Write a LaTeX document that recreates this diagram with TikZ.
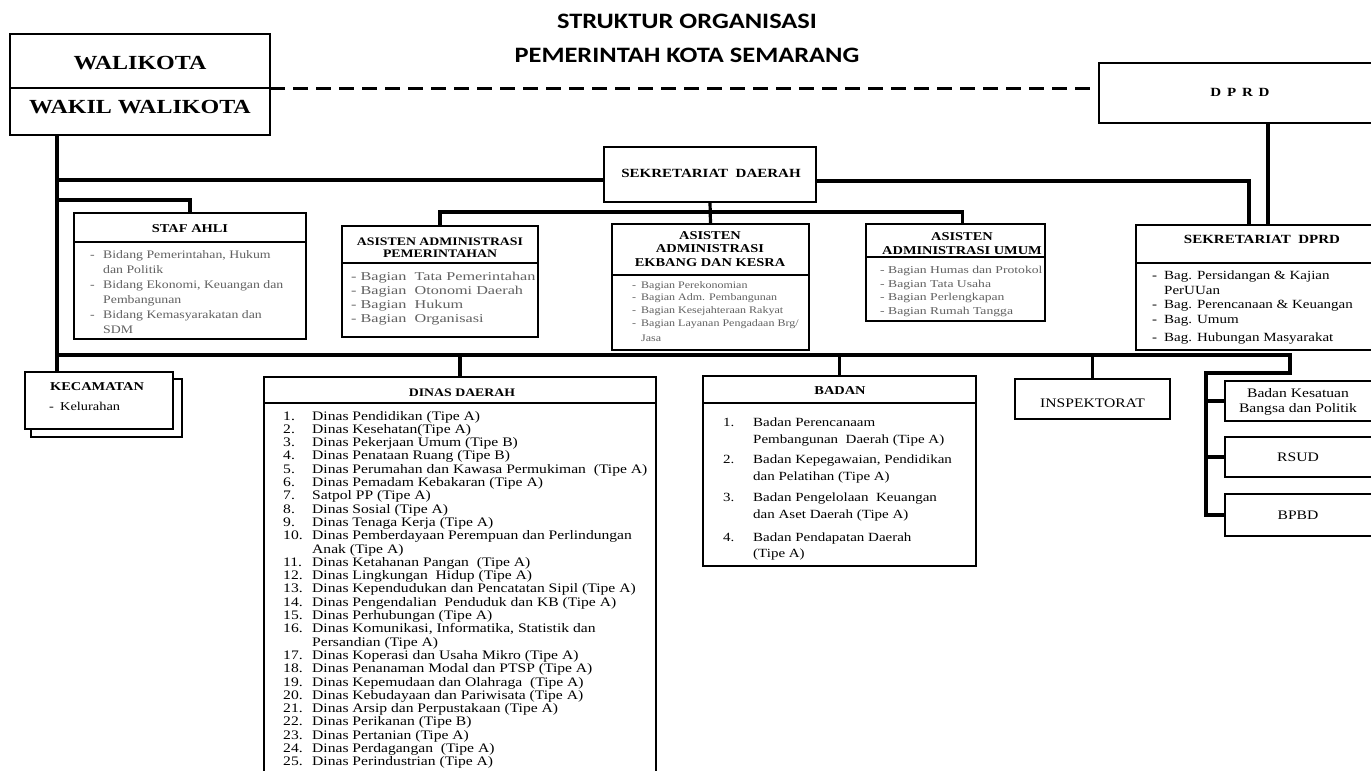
\documentclass[tikz,border=0pt]{standalone}
\usepackage{fontspec}
\setmainfont{Liberation Serif}[FakeStretch=1.2]
\newfontfamily\serW{Liberation Serif}[FakeStretch=1.35]
\newfontfamily\serWW{Liberation Serif}[FakeStretch=1.3]
\newfontfamily\titlef{Carlito}[FakeStretch=1.2]
\newcommand\fsz[2]{\fontsize{#1}{#2}\selectfont}
\newcommand\dsh[1]{\makebox[#1][l]{-}}
\newcommand\ind[1]{\hspace*{#1}}
\newcommand\num[2]{\makebox[#1][l]{#2}}
\definecolor{itemgray}{gray}{0.38}
\begin{document}
\begin{tikzpicture}[x=1pt,y=-1pt,
  box/.style={draw, line width=1.6pt, inner sep=0pt, outer sep=0pt, anchor=north west, fill=white},
  divline/.style={line width=1.6pt},
  conn/.style={line width=3.2pt, line join=miter},
  dashconn/.style={line width=3.2pt, dash pattern=on 15pt off 8pt},
  txt/.style={inner sep=0pt, anchor=base west},
  ctxt/.style={inner sep=0pt, anchor=base, align=center},
  gtxt/.style={txt, text=itemgray}
]
\useasboundingbox (0,0) rectangle (1371,771);
\clip (0,0) rectangle (1371,771);
\fill[white] (0,0) rectangle (1371,771);
\newcommand\hdiv[2]{\draw[divline] ([yshift=-#2pt]#1.north west) -- ([yshift=-#2pt]#1.north east);}

% ---------- title
\node[ctxt, font=\titlef\bfseries\fsz{22}{27}] (title1) at (687,28.5) {STRUKTUR ORGANISASI};
\node[ctxt, font=\titlef\bfseries\fsz{22}{27}] (title2) at (687,62.5) {PEMERINTAH KOTA SEMARANG};

% ---------- boxes
\node[box, minimum width=260pt, minimum height=101pt] (wali) at (10,34) {};
\draw[line width=2.6pt] ([yshift=-54pt]wali.north west) -- ([yshift=-54pt]wali.north east);
\node[box, minimum width=282pt, minimum height=60pt] (dprd) at (1099,63) {};
\node[box, minimum width=212pt, minimum height=55pt] (sekda) at (604,147) {};
\node[box, minimum width=232pt, minimum height=126pt] (staf) at (74,213) {};
\hdiv{staf}{29}
\node[box, minimum width=196pt, minimum height=111pt] (admpem) at (342,226) {};
\hdiv{admpem}{37}
\node[box, minimum width=197pt, minimum height=126pt] (ekbang) at (612,224) {};
\hdiv{ekbang}{51}
\node[box, minimum width=179pt, minimum height=97pt] (umum) at (866,224) {};
\hdiv{umum}{33}
\node[box, minimum width=252pt, minimum height=125pt] (sekdprd) at (1136,225) {};
\hdiv{sekdprd}{38}
\node[box, minimum width=151pt, minimum height=58pt] (kecs) at (31,379) {};
\node[box, minimum width=148pt, minimum height=57pt] (kec) at (25,372) {};
\node[box, minimum width=392pt, minimum height=420pt] (dinas) at (264,377) {};
\hdiv{dinas}{26}
\node[box, minimum width=273pt, minimum height=190pt] (badan) at (703,376) {};
\hdiv{badan}{27}
\node[box, minimum width=155pt, minimum height=40pt] (insp) at (1015,379) {};
\node[box, minimum width=147pt, minimum height=40pt] (bks) at (1225,381) {};
\node[box, minimum width=147pt, minimum height=40pt] (rsud) at (1225,437) {};
\node[box, minimum width=147pt, minimum height=42pt] (bpbd) at (1225,494) {};

% ---------- connectors
\coordinate (jSek) at (57,180);
\coordinate (jStaf) at (57,200);
\coordinate (jBot) at (57,355);
\coordinate (jR) at (1290,355);
\coordinate (jR2) at (1206,373);
\coordinate (dA) at ([yshift=-4pt]wali.east);
\draw[conn] ([xshift=47pt]wali.south west) -- ([xshift=32pt]kec.north west);
\draw[conn] (jSek) -- (jSek -| sekda.west);
\draw[conn] (jStaf) -| (staf.north);
\draw[dashconn] (dA) -- (dA -| dprd.west);
\draw[conn] ([yshift=-6.5pt]sekda.east) -| ([xshift=-13pt]sekdprd.north);
\draw[conn] ([xshift=28pt]dprd.south) -- ([xshift=28pt]dprd.south |- sekdprd.north);
\draw[conn] (sekda.south) -- (ekbang.north);
\draw[conn] (admpem.north) -- ++(0,-14) -| ([xshift=7pt]umum.north);
\draw[conn] (jBot) -- (jR) -- (jR |- jR2) -- (jR2) |- (bpbd.west);
\draw[conn] (jR2 |- bks.west) -- (bks.west);
\draw[conn] (jR2 |- rsud.west) -- (rsud.west);
\draw[conn] (dinas.north |- jBot) -- (dinas.north);
\draw[conn] (badan.north |- jBot) -- (badan.north);
\draw[conn] (insp.north |- jBot) -- (insp.north);

% ---------- texts (ctxt: position = baseline of the last line)
\node[ctxt, font=\bfseries\fsz{20}{24}] (walit) at (140,69.5) {WALIKOTA};
\node[ctxt, font=\bfseries\fsz{20}{24}] (wakilt) at (140,113.5) {WAKIL WALIKOTA};
\node[ctxt, font=\bfseries\fsz{12.5}{14}] (dprdt) at (1240,96.5) {D\ \,P\ \,R\ \,D};
\node[ctxt, font=\bfseries\fsz{12.5}{14}] (sekdat) at (711,177) {SEKRETARIAT\ \ DAERAH};

\node[ctxt, font=\bfseries\fsz{12}{14}] (staft) at (190,232) {STAF AHLI};
\node[gtxt, font=\fsz{11.5}{15}] (stafi) at (90,258) {\begin{tabular}[t]{@{}l@{}}
\dsh{13pt}Bidang Pemerintahan, Hukum\\
\ind{13pt}dan Politik\\
\dsh{13pt}Bidang Ekonomi, Keuangan dan\\
\ind{13pt}Pembangunan\\
\dsh{13pt}Bidang Kemasyarakatan dan\\
\ind{13pt}SDM
\end{tabular}};

\node[ctxt, font=\bfseries\fsz{11.5}{12}] (admpemt) at (440,257) {ASISTEN ADMINISTRASI\\PEMERINTAHAN};
\node[gtxt, font=\serW\fsz{12}{14}] (admpemi) at (351,280) {\begin{tabular}[t]{@{}l@{}}
- Bagian\ \ Tata Pemerintahan\\
- Bagian\ \ Otonomi Daerah\\
- Bagian\ \ Hukum\\
- Bagian\ \ Organisasi
\end{tabular}};

\node[ctxt, font=\bfseries\fsz{12}{13.5}] (ekbangt) at (710,266) {ASISTEN\\ADMINISTRASI\\EKBANG DAN KESRA};
\node[gtxt, font=\fsz{10}{12.7}] (ekbangi) at (632,288) {\begin{tabular}[t]{@{}l@{}}
\dsh{9pt}Bagian Perekonomian\\
\dsh{9pt}Bagian Adm. Pembangunan\\
\dsh{9pt}Bagian Kesejahteraan Rakyat\\
\dsh{9pt}Bagian Layanan Pengadaan Brg/\\[2.5pt]
\ind{9pt}Jasa
\end{tabular}};

\node[ctxt, font=\bfseries\fsz{12}{14}] (umumt) at (962,254) {ASISTEN\\ADMINISTRASI UMUM};
\node[gtxt, font=\serWW\fsz{10.5}{13.5}] (umumi) at (880,273.5) {\begin{tabular}[t]{@{}l@{}}
- Bagian Humas dan Protokol\\
- Bagian Tata Usaha\\
- Bagian Perlengkapan\\
- Bagian Rumah Tangga
\end{tabular}};

\node[ctxt, font=\bfseries\fsz{12.5}{14}] (sekdprdt) at (1262,243) {SEKRETARIAT\ \ DPRD};
\node[txt, font=\fsz{12.5}{14.5}] (sekdprdi) at (1152,279.5) {\begin{tabular}[t]{@{}l@{}}
\dsh{12pt}Bag. Persidangan \& Kajian\\
\ind{12pt}PerUUan\\
\dsh{12pt}Bag. Perencanaan \& Keuangan\\
\dsh{12pt}Bag. Umum\\[3.5pt]
\dsh{12pt}Bag. Hubungan Masyarakat
\end{tabular}};

\node[ctxt, font=\bfseries\fsz{12}{14}] (kect) at (97,390) {KECAMATAN};
\node[txt, font=\fsz{12}{14}] (keci) at (49,410) {\dsh{11pt}Kelurahan};

\node[ctxt, font=\bfseries\fsz{11.5}{14}] (dinast) at (462,396) {DINAS DAERAH};
\node[txt, font=\fsz{13}{13.3}] (dinasi) at (283,420) {\begin{tabular}[t]{@{}l@{}}
\num{29pt}{1.}Dinas Pendidikan (Tipe A)\\
\num{29pt}{2.}Dinas Kesehatan(Tipe A)\\
\num{29pt}{3.}Dinas Pekerjaan Umum (Tipe B)\\
\num{29pt}{4.}Dinas Penataan Ruang (Tipe B)\\
\num{29pt}{5.}Dinas Perumahan dan Kawasa Permukiman\ \ (Tipe A)\\
\num{29pt}{6.}Dinas Pemadam Kebakaran (Tipe A)\\
\num{29pt}{7.}Satpol PP (Tipe A)\\
\num{29pt}{8.}Dinas Sosial (Tipe A)\\
\num{29pt}{9.}Dinas Tenaga Kerja (Tipe A)\\
\num{29pt}{10.}Dinas Pemberdayaan Perempuan dan Perlindungan\\
\ind{29pt}Anak (Tipe A)\\
\num{29pt}{11.}Dinas Ketahanan Pangan\ \ (Tipe A)\\
\num{29pt}{12.}Dinas Lingkungan\ \ Hidup (Tipe A)\\
\num{29pt}{13.}Dinas Kependudukan dan Pencatatan Sipil (Tipe A)\\
\num{29pt}{14.}Dinas Pengendalian\ \ Penduduk dan KB (Tipe A)\\
\num{29pt}{15.}Dinas Perhubungan (Tipe A)\\
\num{29pt}{16.}Dinas Komunikasi, Informatika, Statistik dan\\
\ind{29pt}Persandian (Tipe A)\\
\num{29pt}{17.}Dinas Koperasi dan Usaha Mikro (Tipe A)\\
\num{29pt}{18.}Dinas Penanaman Modal dan PTSP (Tipe A)\\
\num{29pt}{19.}Dinas Kepemudaan dan Olahraga\ \ (Tipe A)\\
\num{29pt}{20.}Dinas Kebudayaan dan Pariwisata (Tipe A)\\
\num{29pt}{21.}Dinas Arsip dan Perpustakaan (Tipe A)\\
\num{29pt}{22.}Dinas Perikanan (Tipe B)\\
\num{29pt}{23.}Dinas Pertanian (Tipe A)\\
\num{29pt}{24.}Dinas Perdagangan\ \ (Tipe A)\\
\num{29pt}{25.}Dinas Perindustrian (Tipe A)
\end{tabular}};

\node[ctxt, font=\bfseries\fsz{12}{14}] (badant) at (840,394) {BADAN};
\node[txt, font=\fsz{12.5}{17}] (badan1) at (723,426) {\begin{tabular}[t]{@{}l@{}}
\num{30pt}{1.}Badan Perencanaam\\ \ind{30pt}Pembangunan\ \ Daerah (Tipe A)\end{tabular}};
\node[txt, font=\fsz{12.5}{17}] (badan2) at (723,463.5) {\begin{tabular}[t]{@{}l@{}}
\num{30pt}{2.}Badan Kepegawaian, Pendidikan\\ \ind{30pt}dan Pelatihan (Tipe A)\end{tabular}};
\node[txt, font=\fsz{12.5}{17}] (badan3) at (723,501.5) {\begin{tabular}[t]{@{}l@{}}
\num{30pt}{3.}Badan Pengelolaan\ \ Keuangan\\ \ind{30pt}dan Aset Daerah (Tipe A)\end{tabular}};
\node[txt, font=\fsz{12.5}{16}] (badan4) at (723,541) {\begin{tabular}[t]{@{}l@{}}
\num{30pt}{4.}Badan Pendapatan Daerah\\ \ind{30pt}(Tipe A)\end{tabular}};

\node[ctxt, font=\fsz{13}{15}] (inspt) at (1092.5,407.5) {INSPEKTORAT};
\node[ctxt, font=\fsz{13}{15}] (bkst) at (1298,412.5) {Badan Kesatuan\\Bangsa dan Politik};
\node[ctxt, font=\fsz{13}{15}] (rsudt) at (1298,461.5) {RSUD};
\node[ctxt, font=\fsz{13}{15}] (bpbdt) at (1298,519.5) {BPBD};
\end{tikzpicture}
\end{document}
